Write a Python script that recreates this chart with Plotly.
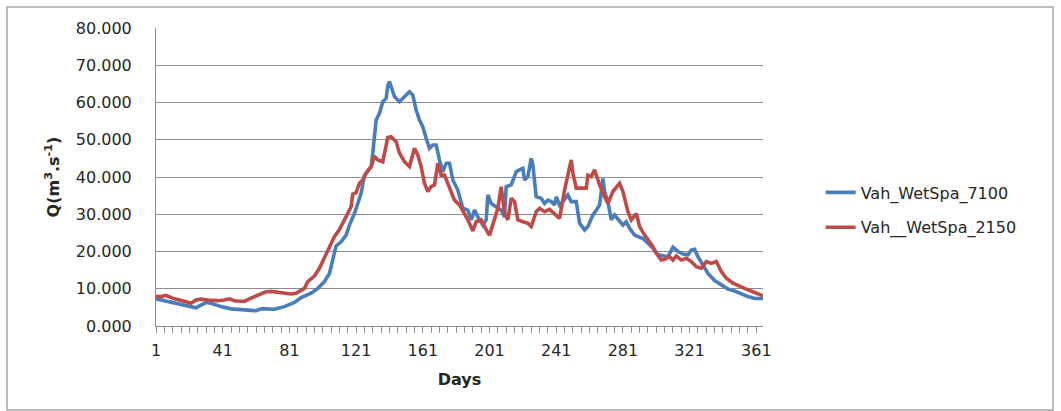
import plotly.graph_objects as go

# Daily discharge, Vah river, WetSpa model runs
days_7100 = [1, 6, 12, 20, 25, 27, 31, 34, 40, 46, 52, 58, 61, 64, 66, 72, 78, 84, 88, 94,
             98, 102, 105, 107, 109, 112, 115, 117, 120, 122, 124, 126, 130, 131, 132, 133, 135, 137, 139, 140,
             141, 142, 144, 147, 150, 153, 155, 157, 159, 161, 163, 165, 167, 169, 171, 173, 175, 177, 179, 182,
             185, 188, 190, 192, 194, 197, 199, 200, 202, 205, 208, 210, 211, 214, 217, 219, 221, 222, 224, 226,
             227, 229, 232, 234, 236, 238, 240, 241, 243, 245, 248, 250, 253, 255, 258, 260, 263, 265, 267, 269,
             270, 272, 274, 276, 279, 281, 283, 285, 288, 290, 293, 296, 299, 302, 305, 308, 311, 314, 317, 320,
             322, 324, 326, 329, 332, 336, 340, 344, 348, 352, 356, 360, 363, 365]
q_7100 = [7.3, 6.8, 6.1, 5.2, 4.9, 5.4, 6.3, 6.1, 5.2, 4.6, 4.3, 4.2, 4.1, 4.6, 4.6, 4.5, 5.2, 6.3, 7.6, 8.8,
          10.1, 11.9, 14.1, 17.7, 21.5, 22.6, 24.4, 27.1, 30.2, 32.9, 35.6, 40.5, 42.8, 46.4, 49.9, 55.3, 57.1, 60.2, 61.1, 64.5,
          65.6, 64.0, 61.6, 60.2, 61.6, 62.9, 62.0, 58.0, 55.3, 53.5, 50.4, 47.7, 48.6, 48.6, 44.6, 41.4, 43.7, 43.7, 39.2, 36.5,
          31.6, 31.1, 28.5, 31.1, 29.3, 27.1, 28.5, 35.2, 32.9, 31.9, 31.1, 29.3, 37.4, 37.9, 41.4, 41.9, 42.3, 39.2, 40.1, 45.0,
          43.2, 34.7, 34.3, 32.9, 33.8, 33.4, 32.5, 34.7, 32.5, 33.4, 35.2, 33.4, 33.4, 27.6, 25.8, 26.7, 29.8, 31.1, 32.5, 39.6,
          36.1, 33.4, 28.5, 29.8, 28.0, 27.1, 28.0, 26.2, 24.4, 24.0, 23.5, 22.2, 20.9, 19.1, 18.8, 18.6, 21.1, 20.0, 19.3, 19.1,
          20.4, 20.6, 18.6, 16.4, 14.1, 12.2, 11.0, 9.9, 9.4, 8.6, 7.9, 7.4, 7.4, 7.4]

days_2150 = [1, 4, 7, 12, 17, 22, 25, 28, 32, 38, 42, 45, 48, 54, 58, 61, 64, 67, 70, 74,
             78, 82, 85, 88, 90, 92, 96, 99, 102, 105, 108, 111, 114, 116, 118, 119, 121, 123, 125, 127,
             130, 132, 134, 137, 139, 140, 142, 143, 145, 147, 150, 153, 155, 156, 158, 160, 162, 164, 166, 168,
             170, 172, 174, 177, 180, 183, 186, 188, 191, 193, 196, 198, 200, 201, 203, 206, 208, 210, 212, 214,
             216, 218, 221, 224, 226, 229, 231, 234, 237, 240, 243, 246, 248, 250, 251, 253, 257, 259, 260, 262,
             264, 267, 270, 272, 275, 277, 279, 281, 284, 286, 289, 291, 294, 297, 299, 301, 304, 306, 309, 311,
             313, 316, 319, 322, 325, 328, 331, 334, 337, 340, 343, 347, 351, 355, 359, 362, 365]
q_2150 = [8.0, 7.9, 8.2, 7.3, 6.8, 6.1, 7.0, 7.2, 7.0, 6.8, 7.0, 7.3, 6.8, 6.6, 7.5, 8.0, 8.6, 9.2, 9.3, 9.1,
          8.8, 8.6, 8.8, 9.6, 10.1, 11.9, 13.4, 15.5, 18.2, 20.9, 24.0, 25.9, 28.5, 29.8, 32.0, 35.4, 35.8, 38.3, 39.2, 41.0,
          42.8, 45.6, 44.6, 44.1, 48.1, 50.6, 50.8, 50.4, 49.5, 46.4, 44.1, 42.8, 46.4, 47.7, 45.9, 42.8, 38.3, 36.1, 37.4, 37.9,
          43.7, 40.5, 40.5, 37.4, 33.8, 32.5, 30.2, 28.5, 25.5, 28.0, 28.5, 26.5, 25.0, 24.4, 27.6, 31.6, 37.4, 30.2, 28.5, 34.3,
          33.4, 28.5, 28.0, 27.6, 26.7, 30.7, 31.6, 30.7, 31.3, 30.2, 28.9, 36.5, 40.1, 44.6, 41.0, 37.0, 37.0, 37.0, 40.5, 40.1,
          41.9, 37.9, 34.7, 32.9, 36.1, 37.4, 38.3, 36.1, 30.7, 28.5, 30.2, 26.7, 24.4, 22.6, 21.3, 19.5, 17.7, 17.9, 18.6, 17.7,
          18.8, 17.7, 18.2, 17.3, 15.9, 15.5, 17.3, 16.8, 17.3, 14.6, 12.8, 11.5, 10.6, 9.9, 9.2, 8.6, 8.1]

day_ticks = [1, 41, 81, 121, 161, 201, 241, 281, 321, 361]

BLUE = "#4A7EBB"
RED = "#BE4B48"
GRID = "#8C8C8C"
TEXT = "#262626"
FONT = "DejaVu Sans"

fig = go.Figure()
fig.add_trace(go.Scatter(x=days_7100, y=q_7100, mode="lines", name="Vah_WetSpa_7100",
                         legendgroup="a", line=dict(color=BLUE, width=3.6)))
fig.add_trace(go.Scatter(x=days_2150, y=q_2150, mode="lines", name="Vah__WetSpa_2150",
                         legendgroup="b", line=dict(color=RED, width=3.6)))

fig.update_layout(
    width=1061, height=411,
    margin=dict(l=156, r=298, t=28, b=85),
    paper_bgcolor="white", plot_bgcolor="white",
    font=dict(family=FONT, size=16, color=TEXT),
    showlegend=True,
    legend=dict(x=1.095, xanchor="left", y=0.505, yanchor="top",
                font=dict(family=FONT, size=16, color=TEXT),
                tracegroupgap=11, itemwidth=30, bgcolor="rgba(0,0,0,0)"),
    xaxis=dict(range=[1, 365], tickvals=day_ticks, ticktext=[str(d) for d in day_ticks],
               showgrid=False, showline=True, linecolor=GRID, linewidth=1,
               ticks="outside", ticklen=6, tickcolor=GRID, ticklabelstandoff=4,
               minor=dict(tick0=1, dtick=5, ticks="outside", ticklen=6, tickcolor=GRID),
               tickfont=dict(family=FONT, size=16, color=TEXT),
               title=dict(text="<b>Days</b>", font=dict(family=FONT, size=16, color=TEXT), standoff=14),
               zeroline=False, fixedrange=True),
    yaxis=dict(range=[0, 80], dtick=10, tickformat=".3f",
               showgrid=True, gridcolor=GRID, gridwidth=1,
               showline=True, linecolor=GRID, linewidth=1,
               ticks="", ticklabelstandoff=20,
               tickfont=dict(family=FONT, size=16, color=TEXT),
               title=dict(text="<b>Q(m<sup>3</sup>.s<sup>-1</sup>)</b>",
                          font=dict(family=FONT, size=16, color=TEXT), standoff=12),
               zeroline=False, fixedrange=True),
)

# Chart-area frame
fig.add_shape(type="rect", xref="paper", yref="paper",
              x0=(7 - 156) / 607, x1=(1053 - 156) / 607,
              y0=(326 - 410) / 298, y1=(326 - 7) / 298,
              line=dict(color="#A6A6A6", width=1.5), layer="below")

fig.write_html("out.html")
